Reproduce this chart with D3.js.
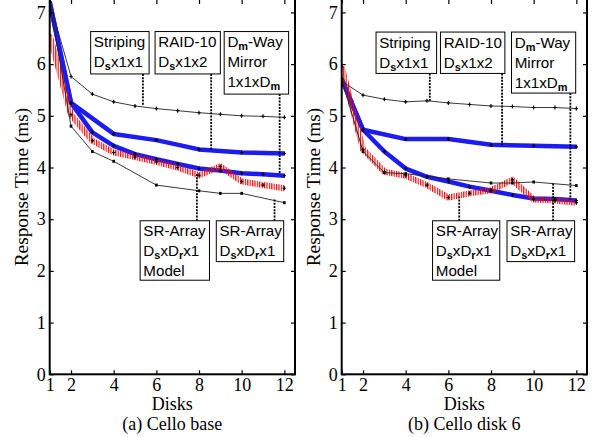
<!DOCTYPE html>
<html>
<head>
<meta charset="utf-8">
<script src="https://cdn.jsdelivr.net/npm/d3@7/dist/d3.min.js"></script>
<style>
  body { margin: 0; background: #fff; }
  svg { display: block; }
</style>
</head>
<body>
<div id="chart"></div>
<script>
// number of disks on the x axis
var disks     = [1, 2, 3, 4, 5, 6, 7, 8, 9, 10, 11, 12];
var evenDisks = [1, 2, 4, 6, 8, 10, 12];
var srDisks   = [1, 2, 3, 4, 6, 8, 9, 10, 12];
var xTicks    = [1, 2, 4, 6, 8, 10, 12];
var yTicks    = [0, 1, 2, 3, 4, 5, 6, 7];

// (a) Cello base - response time (ms)
var baseStriping = [7.2, 5.76, 5.42, 5.27, 5.19, 5.14, 5.10, 5.06, 5.03, 5.00, 4.99, 4.97];
var baseRaid10   = [7.2, 5.25, 4.65, 4.53, 4.35, 4.29, 4.27];
var baseMirror   = [7.2, 5.25, 4.68, 4.42, 4.26, 4.16, 4.07, 3.98, 3.94, 3.89, 3.87, 3.84];
var baseModel    = [6.56, 5.02, 4.52, 4.29, 4.20, 4.11, 4.00, 3.85, 4.02, 3.73, 3.66, 3.60];
var baseSrArray  = [7.2, 4.80, 4.31, 4.12, 3.66, 3.55, 3.50, 3.50, 3.32];

// (b) Cello disk 6 - response time (ms)
var d6Striping = [5.67, 5.40, 5.32, 5.27, 5.29, 5.25, 5.22, 5.19, 5.18, 5.16, 5.16, 5.14];
var d6Raid10   = [5.71, 4.73, 4.55, 4.55, 4.44, 4.42, 4.40];
var d6Mirror   = [5.71, 4.73, 4.31, 3.98, 3.82, 3.73, 3.63, 3.55, 3.47, 3.40, 3.39, 3.36];
var d6Model    = [5.95, 4.35, 3.92, 3.84, 3.66, 3.42, 3.50, 3.56, 3.76, 3.38, 3.36, 3.32];
var d6SrArray  = [5.71, 4.31, 3.90, 3.88, 3.78, 3.70, 3.70, 3.72, 3.65];

// annotation texts, {..} = subscript
var noteStriping = ["Striping", "D{s}x1x1"];
var noteRaid10   = ["RAID-10", "D{s}x1x2"];
var noteMirror   = ["D{m}-Way", "Mirror", "1x1xD{m}"];
var noteModel    = ["SR-Array", "D{s}xD{r}x1", "Model"];
var noteSrArray  = ["SR-Array", "D{s}xD{r}x1"];

function zip(xs, ys) { return xs.map(function(d, i) { return {x: d, y: ys[i]}; }); }

var width = 593, height = 437;
var sans  = "'Liberation Sans', Arial, Helvetica, sans-serif";
var serif = "'Liberation Serif', 'Times New Roman', serif";

var svg = d3.select("#chart").append("svg")
    .attr("width", width)
    .attr("height", height);

// the box labels are set so that "Striping" is about 52px wide, like the original
var probe = svg.append("text").attr("font-family", sans).attr("font-size", 15).text("Striping");
var probeW = probe.node().getComputedTextLength();
probe.remove();
var boxFont = probeW > 0 ? 15 * 51.5 / probeW : 15;
var subFont = boxFont * 0.72;

var defs = svg.append("defs");
// vertical red hatching used for the model curve
defs.append("pattern")
    .attr("id", "hatch")
    .attr("patternUnits", "userSpaceOnUse")
    .attr("width", 2.4)
    .attr("height", 10)
  .append("rect")
    .attr("width", 1.2)
    .attr("height", 10)
    .attr("fill", "#ee0a0a");

var panels = [
  { left: 49.7, right: 295, title: "(a) Cello base",
    striping: baseStriping, raid10: baseRaid10, mirror: baseMirror, model: baseModel, sr: baseSrArray,
    // box: [x0, x1, yTop, yBottom] and ptr: [x, y], all in data units
    notes: [
      {lines: noteStriping, box: [2.92, 5.66, 6.63, 5.81], ptr: [5.37, 5.21]},
      {lines: noteRaid10,   box: [5.94, 9.0, 6.63, 5.81],  ptr: [8.57, 4.34]},
      {lines: noteMirror,   box: [9.18, 12.2, 6.63, 5.42], ptr: [11.78, 3.87]},
      {lines: noteModel,    box: [5.24, 8.49, 2.97, 1.82], ptr: [7.90, 3.88]},
      {lines: noteSrArray,  box: [8.81, 11.97, 2.97, 2.18], ptr: [11.54, 3.40]}
    ] },
  { left: 341.7, right: 587, title: "(b) Cello disk 6",
    striping: d6Striping, raid10: d6Raid10, mirror: d6Mirror, model: d6Model, sr: d6SrArray,
    notes: [
      {lines: noteStriping, box: [2.61, 5.45, 6.62, 5.82], ptr: [5.13, 5.27]},
      {lines: noteRaid10,   box: [5.63, 8.65, 6.62, 5.82], ptr: [8.52, 4.43]},
      {lines: noteMirror,   box: [8.96, 11.97, 6.62, 5.44], ptr: [11.72, 3.37]},
      {lines: noteModel,    box: [5.26, 8.41, 2.97, 1.82], ptr: [6.51, 3.44]},
      {lines: noteSrArray,  box: [8.75, 11.92, 2.97, 2.18], ptr: [10.91, 3.70]}
    ] }
];

var y = d3.scaleLinear().domain([0, 7.25]).range([374.3, -0.5]);
var bottom = y(0);

function richText(sel, str) {
  var parts = str.split(/(\{[^}]*\})/).filter(function(p) { return p.length; });
  var down = false;
  parts.forEach(function(p) {
    if (p[0] == "{") {
      sel.append("tspan").attr("dy", 3).attr("font-size", subFont).attr("font-weight", "bold")
        .text(p.slice(1, -1));
      down = true;
    } else {
      sel.append("tspan").attr("dy", down ? -3 : 0).text(p);
      down = false;
    }
  });
}

panels.forEach(function(p, pi) {
  var x = d3.scaleLinear().domain([1, 12.5]).range([p.left, p.right]);
  var g = svg.append("g");

  var line = d3.line().x(function(d) { return x(d.x); }).y(function(d) { return y(d.y); });

  var clip = "clip" + pi;
  defs.append("clipPath").attr("id", clip)
    .append("rect").attr("x", p.left).attr("y", -1).attr("width", p.right - p.left).attr("height", bottom + 1);

  var plot = g.append("g").attr("clip-path", "url(#" + clip + ")");

  // blue thick lines
  [zip(evenDisks, p.raid10), zip(disks, p.mirror)].forEach(function(s) {
    plot.append("path").datum(s)
      .attr("d", line)
      .attr("fill", "none")
      .attr("stroke", "#1c1cf0")
      .attr("stroke-width", 4.5)
      .attr("stroke-linejoin", "round");
  });

  // model (red hatched)
  plot.append("path").datum(zip(disks, p.model))
    .attr("d", line)
    .attr("fill", "none")
    .attr("stroke", "url(#hatch)")
    .attr("stroke-width", 6);

  // thin black lines
  [zip(disks, p.striping), zip(srDisks, p.sr)].forEach(function(s) {
    plot.append("path").datum(s)
      .attr("d", line)
      .attr("fill", "none")
      .attr("stroke", "#222")
      .attr("stroke-width", 0.9);
  });

  // small plus markers
  var plusPts = [].concat(zip(disks, p.striping), zip(evenDisks, p.raid10), zip(disks, p.mirror), zip(disks, p.model));
  plot.selectAll(".plus").data(plusPts).enter().append("path")
    .attr("class", "plus")
    .attr("d", function(d) {
      var cx = x(d.x), cy = y(d.y);
      return "M" + (cx - 1.6) + "," + cy + "H" + (cx + 1.6) + "M" + cx + "," + (cy - 2) + "V" + (cy + 2);
    })
    .attr("stroke", "#000")
    .attr("stroke-width", 1.1);

  plot.selectAll(".sq").data(zip(srDisks, p.sr)).enter().append("rect")
    .attr("class", "sq")
    .attr("x", function(d) { return x(d.x) - 1.3; })
    .attr("y", function(d) { return y(d.y) - 1.5; })
    .attr("width", 2.6)
    .attr("height", 3)
    .attr("fill", "#000");

  // annotation pointers and boxes
  p.notes.forEach(function(n) {
    var bx0 = x(n.box[0]), bx1 = x(n.box[1]), by0 = y(n.box[2]), by1 = y(n.box[3]);
    var py = y(n.ptr[1]);
    g.append("line")
      .attr("x1", x(n.ptr[0])).attr("x2", x(n.ptr[0]))
      .attr("y1", py < by0 ? by0 : by1).attr("y2", py)
      .attr("stroke", "#000")
      .attr("stroke-width", 1.8)
      .attr("stroke-dasharray", "2,1.2");
    g.append("rect")
      .attr("x", bx0).attr("y", by0)
      .attr("width", bx1 - bx0).attr("height", by1 - by0)
      .attr("fill", "#fff")
      .attr("stroke", "#000")
      .attr("stroke-width", 1);
    n.lines.forEach(function(t, i) {
      var txt = g.append("text")
        .attr("x", bx0 + 3.2)
        .attr("y", by0 + 15.5 + i * 20)
        .attr("font-family", sans)
        .attr("font-size", boxFont)
        .attr("fill", "#000");
      richText(txt, t);
    });
  });

  // axes with inward ticks
  var ax = g.append("g").attr("transform", "translate(" + p.left + ",0)")
    .call(d3.axisLeft(y).tickValues(yTicks).tickSize(-4).tickPadding(4).tickFormat(d3.format("d")));
  var bx = g.append("g").attr("transform", "translate(0," + bottom + ")")
    .call(d3.axisBottom(x).tickValues(xTicks).tickSize(-4).tickPadding(3.5).tickFormat(d3.format("d")));
  var rx = g.append("g").attr("transform", "translate(" + p.right + ",0)")
    .call(d3.axisRight(y).tickValues(yTicks).tickSize(-4).tickFormat(""));
  var tx = g.append("g").attr("transform", "translate(0,-1)")
    .call(d3.axisTop(x).tickValues(xTicks).tickSize(-5).tickFormat(""));
  [ax, bx, rx, tx].forEach(function(a) {
    a.select(".domain").remove();
    a.selectAll(".tick line").attr("stroke", "#000").attr("stroke-width", 1.2);
    a.selectAll("text").attr("font-family", serif).attr("font-size", 18).attr("fill", "#000");
  });

  // frame
  g.append("rect")
    .attr("x", p.left).attr("y", -1)
    .attr("width", p.right - p.left).attr("height", bottom + 1)
    .attr("fill", "none")
    .attr("stroke", "#000")
    .attr("stroke-width", 2);

  var mid = (p.left + p.right) / 2;
  g.append("text")
    .attr("x", mid).attr("y", 409.5)
    .attr("text-anchor", "middle")
    .attr("font-family", serif).attr("font-size", 18)
    .text("Disks");
  g.append("text")
    .attr("x", mid).attr("y", 429.5)
    .attr("text-anchor", "middle")
    .attr("font-family", serif).attr("font-size", 18)
    .text(p.title);
  g.append("text")
    .attr("transform", "translate(" + (p.left - 28) + ",187)rotate(-90)")
    .attr("text-anchor", "middle")
    .attr("dy", "0.35em")
    .attr("font-family", serif).attr("font-size", 19.3)
    .text("Response Time (ms)");
});
</script>
</body>
</html>
